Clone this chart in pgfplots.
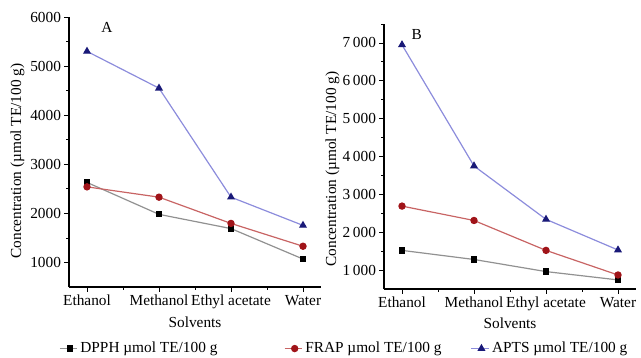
\documentclass[border=0pt]{standalone}
\usepackage{fontspec}
\setmainfont{Liberation Serif}
\usepackage{pgfplots}
\pgfplotsset{compat=1.18}
\definecolor{dpphline}{RGB}{145,145,145}
\definecolor{frapline}{RGB}{200,100,100}
\definecolor{frapmark}{RGB}{160,20,25}
\definecolor{aptsline}{RGB}{140,140,220}
\definecolor{aptsmark}{RGB}{25,25,120}
\pgfplotsset{
  panel/.style={
    scale only axis,
    axis lines=left,
    axis line style={-, line width=0.8pt},
    xmin=-0.25, xmax=3.25,
    xtick={0,1,2,3},
    xticklabels={Ethanol,Methanol,Ethyl acetate,Water},
    minor xtick={0.5,1.5,2.5},
    tick align=outside,
    major tick length=3.5pt,
    minor tick length=2pt,
    tick style={black, line width=0.6pt},
    ymin=500,
    font=\fontsize{11.5}{13}\selectfont,
    ticklabel style={font=\fontsize{11.5}{13}\selectfont},
    /pgf/number format/assume math mode=true,
    xlabel={Solvents},
    ylabel={Concentration (µmol TE/100 g)},
    xlabel style={at={(axis description cs:0.5,-0.13)}, anchor=center},
    yticklabel style={xshift=1pt},
    xticklabel style={yshift=1pt},
    every axis plot/.append style={line width=0.9pt},
  },
  dpph/.style={color=dpphline, mark=square*, mark size=1.9pt, mark options={fill=black, draw=black}},
  frap/.style={color=frapline, mark=*, mark size=2.3pt, mark options={fill=frapmark, draw=frapmark}},
  apts/.style={color=aptsline, mark=triangle*, mark size=2.6pt, mark options={fill=aptsmark, draw=aptsmark}},
}
\begin{document}
\begin{tikzpicture}
\useasboundingbox (0,0) rectangle (480.75pt,267.75pt);
\begin{axis}[panel,
  at={(51.75pt,52.5pt)}, anchor=south west,
  width=189pt, height=202.5pt,
  ymax=6000,
  ytick={1000,2000,3000,4000,5000,6000},
  minor ytick={1500,2500,3500,4500,5500},
  /pgf/number format/1000 sep={},
  ylabel style={at={(axis description cs:-0.205,0.467)}, anchor=center},
  legend columns=3,
  legend style={at={(axis description cs:-0.04,-0.228)}, anchor=west, draw=none, fill=none,
    font=\fontsize{11.5}{13}\selectfont, inner sep=0pt,
    /tikz/column 2/.style={column sep=48pt},
    /tikz/column 4/.style={column sep=20pt}},
  legend image code/.code={\draw[#1, mark=none] (0pt,0pt) -- (13pt,0pt);
    \path[#1, only marks] plot coordinates {(7.5pt,0pt)};},
]
\node[anchor=center, font=\fontsize{11.5}{13}\selectfont] at (axis description cs:0.15,0.96) {A};
\addplot[dpph] coordinates {(0,2630) (1,1980) (2,1690) (3,1070)};
\addlegendentry{DPPH µmol TE/100 g}
\addplot[frap] coordinates {(0,2540) (1,2330) (2,1795) (3,1330)};
\addlegendentry{FRAP µmol TE/100 g}
\addplot[apts] coordinates {(0,5300) (1,4550) (2,2330) (3,1755)};
\addlegendentry{APTS µmol TE/100 g}
\end{axis}
\begin{axis}[panel,
  at={(288pt,51pt)}, anchor=south west,
  width=189pt, height=198.75pt,
  ymax=7500,
  ytick={1000,2000,3000,4000,5000,6000,7000},
  minor ytick={1500,2500,3500,4500,5500,6500,7500},
  yticklabels={1\,000,2\,000,3\,000,4\,000,5\,000,6\,000,7\,000},
  ylabel style={at={(axis description cs:-0.205,0.453)}, anchor=center},
]
\node[anchor=center, font=\fontsize{11.5}{13}\selectfont] at (axis description cs:0.13,0.96) {B};
\addplot[dpph] coordinates {(0,1520) (1,1280) (2,960) (3,740)};
\addplot[frap] coordinates {(0,2690) (1,2310) (2,1520) (3,870)};
\addplot[apts] coordinates {(0,6950) (1,3750) (2,2340) (3,1530)};
\end{axis}
\end{tikzpicture}
\end{document}
